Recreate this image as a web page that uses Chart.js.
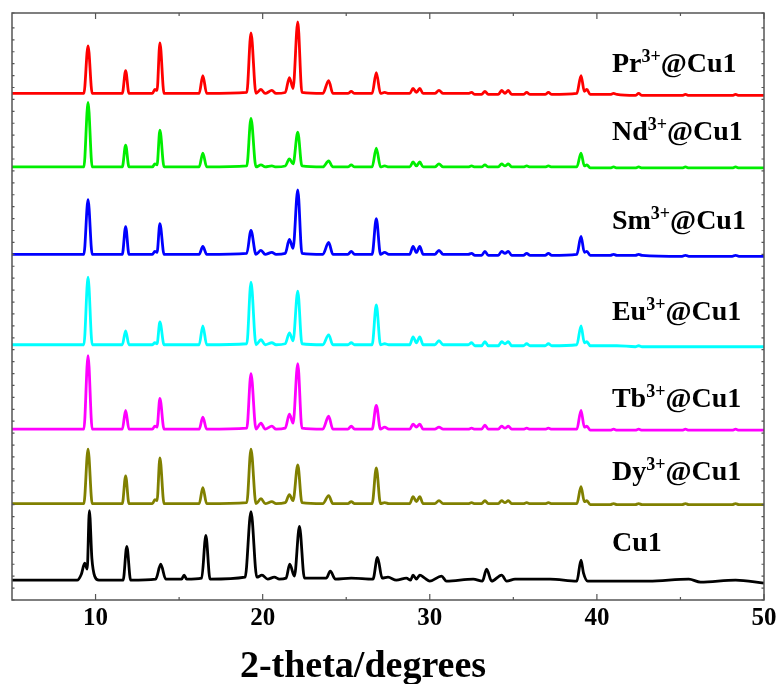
<!DOCTYPE html>
<html>
<head>
<meta charset="utf-8">
<script src="https://cdn.jsdelivr.net/npm/chart.js@4.4.1/dist/chart.umd.min.js"></script>
<style>
  html, body { margin: 0; padding: 0; background: #fff; }
</style>
</head>
<body>
<canvas id="xrd" width="781" height="684"></canvas>
<script>
// 2-theta grid shared by the doped samples
const twoTheta = [
  5, 9.3, 9.55, 9.8,
  11.6, 11.8, 12.0,
  13.4, 13.55, 13.68, 13.85, 14.1,
  16.2, 16.42, 16.65,
  19.05, 19.3, 19.6, 19.9, 20.15, 20.55, 20.8,
  21.35, 21.6, 21.82, 22.1, 22.35,
  23.6, 23.95, 24.2, 25.1, 25.3, 25.5,
  26.55, 26.8, 27.05, 27.3, 27.55,
  28.8, 29.0, 29.2, 29.4, 29.6, 30.3, 30.55, 30.8,
  32.3, 32.5, 32.7, 33.1, 33.3, 33.5,
  34.1, 34.3, 34.5, 34.7, 34.9, 35.6, 35.8, 36.0, 36.9, 37.1, 37.3,
  38.8, 39.05, 39.25, 39.4, 39.6,
  40.8, 41.0, 41.2, 42.3, 42.5, 42.7, 45.1, 45.3, 45.5, 48.1, 48.3, 48.5, 50
];

// stacked intensities (a.u.)
const prCu1 = [
  510, 510, 558, 510,
  510, 533, 510,
  510, 514, 513, 561, 510,
  510, 528, 510,
  511, 571, 510, 514, 510, 513, 510,
  511, 526, 515, 582, 511,
  510, 523, 510, 510, 512, 510,
  510, 531, 510, 511, 510,
  510, 515, 511, 515, 510, 510, 513, 510,
  510, 511, 509, 509, 512, 509,
  509, 513, 510, 513, 509, 509, 511, 509, 509, 511, 509,
  510, 528, 512, 514, 509,
  509, 510, 509, 508, 510, 508, 508, 509, 508, 508, 509, 508, 508
];
const ndCu1 = [
  436, 436, 501, 436,
  436, 458, 436,
  436, 439, 438, 473, 436,
  436, 450, 436,
  437, 485, 436, 438, 436, 437, 436,
  437, 444, 439, 471, 437,
  436, 442, 436, 436, 438, 436,
  436, 455, 436, 437, 436,
  436, 441, 437, 441, 436, 436, 439, 436,
  436, 437, 436, 436, 438, 436,
  436, 439, 437, 439, 436, 436, 437, 436, 436, 437, 436,
  436, 450, 437, 438, 435,
  435, 436, 435, 435, 436, 435, 435, 436, 435, 435, 436, 435, 435
];
const smCu1 = [
  348, 348, 403, 348,
  348, 376, 348,
  348, 351, 350, 379, 348,
  348, 356, 348,
  349, 372, 348, 352, 348, 350, 348,
  349, 363, 354, 413, 349,
  348, 360, 348, 348, 351, 348,
  348, 384, 348, 350, 348,
  348, 356, 350, 356, 348, 348, 352, 348,
  348, 349, 347, 347, 351, 347,
  347, 351, 349, 351, 347, 347, 349, 347, 347, 349, 347,
  348, 366, 350, 351, 347,
  347, 348, 347, 347, 348, 347, 346, 347, 346, 346, 347, 346, 346
];
const euCu1 = [
  257, 257, 325, 257,
  257, 271, 257,
  257, 259, 258, 280, 257,
  257, 276, 257,
  258, 320, 257, 262, 257, 259, 257,
  258, 269, 261, 311, 258,
  257, 267, 257, 257, 259, 257,
  257, 297, 257, 258, 257,
  257, 265, 259, 265, 257, 257, 261, 257,
  257, 259, 256, 256, 260, 256,
  256, 260, 258, 260, 256, 256, 258, 256, 256, 258, 256,
  257, 276, 259, 260, 256,
  256, 256, 256, 255, 256, 255, 255, 255, 255, 255, 255, 255, 255
];
const tbCu1 = [
  172, 172, 246, 172,
  172, 191, 172,
  172, 175, 174, 203, 172,
  172, 184, 172,
  173, 228, 172, 178, 172, 175, 172,
  173, 187, 178, 238, 173,
  172, 185, 172, 172, 175, 172,
  172, 196, 172, 174, 172,
  172, 177, 174, 177, 172, 172, 174, 172,
  172, 173, 172, 172, 176, 172,
  172, 175, 173, 175, 172, 172, 173, 172, 172, 173, 172,
  172, 191, 174, 175, 171,
  171, 172, 171, 171, 172, 171, 171, 172, 171, 171, 172, 171, 171
];
const dyCu1 = [
  97, 97, 152, 97,
  97, 125, 97,
  97, 101, 100, 143, 97,
  97, 113, 97,
  98, 152, 97, 102, 97, 99, 97,
  98, 106, 100, 136, 98,
  97, 105, 97, 97, 99, 97,
  97, 133, 97, 98, 97,
  97, 104, 99, 104, 97, 97, 100, 97,
  97, 98, 97, 97, 100, 97,
  97, 100, 98, 100, 97, 97, 98, 97, 97, 98, 97,
  97, 114, 99, 100, 96,
  96, 97, 96, 96, 97, 96, 96, 97, 96, 96, 97, 96, 96
];

// the parent compound was measured on its own grid
const cu1Theta = [
  5, 8.9, 9.15, 9.35, 9.5, 9.63, 9.78, 9.95, 10.2,
  11.65, 11.87, 12.1,
  13.6, 13.9, 14.2,
  15.15, 15.3, 15.45,
  16.35, 16.6, 16.85,
  18.95, 19.3, 19.65, 19.96, 20.3, 20.7, 21.0,
  21.4, 21.62, 21.9, 22.2, 22.5,
  23.8, 24.05, 24.35, 25.3,
  26.6, 26.87, 27.15, 27.5, 28.0,
  28.6, 28.85, 29.0, 29.2, 29.4, 29.7, 30.0, 30.7, 31.0,
  32.6, 33.15, 33.4, 33.7,
  34.3, 34.6, 35.1, 35.9, 37.2,
  38.8, 39.05, 39.2, 39.45,
  40.2, 41.0, 42.6, 43.1, 45.5, 46.2, 48.3, 50
];
const cu1 = [
  20, 20, 26, 37, 31, 90, 42, 24, 20,
  20, 54, 20,
  21, 36, 21,
  21, 25, 21,
  22, 65, 21,
  23, 89, 23, 25, 21, 23, 21,
  22, 36, 24, 74, 22,
  22, 29, 21, 22,
  21, 43, 22, 23, 20,
  22, 20, 25, 21, 25, 22, 19, 24, 19,
  21, 19, 31, 19,
  25, 19, 21, 21, 21,
  19, 40, 27, 19,
  19, 19, 19, 19, 21, 18, 20, 17
];

const labelBase = ['Pr', 'Nd', 'Sm', 'Eu', 'Tb', 'Dy', 'Cu1'];
const labelSup = ['3+', '3+', '3+', '3+', '3+', '3+', ''];
const labelRest = ['@Cu1', '@Cu1', '@Cu1', '@Cu1', '@Cu1', '@Cu1', ''];

const xTicks = [10, 20, 30, 40, 50];
const xMinorTicks = [15, 25, 35, 45];

const colors = ['#ff0000', '#00ee00', '#0000ff', '#00ffff', '#ff00ff', '#808000', '#000000'];
const series = [prCu1, ndCu1, smCu1, euCu1, tbCu1, dyCu1, cu1];
const grids = [twoTheta, twoTheta, twoTheta, twoTheta, twoTheta, twoTheta, cu1Theta];

// label anchors in data units (left edge x, baseline y)
const labelX = 40.9;
const labelY = [532, 463, 374, 282, 194, 121, 49];

const serif = '"Liberation Serif", "Times New Roman", serif';

const decor = {
  id: 'decor',
  afterDatasetsDraw(chart) {
    const { ctx, chartArea: a, scales: { x, y } } = chart;
    ctx.save();

    // frame
    ctx.strokeStyle = '#555';
    ctx.lineWidth = 1.5;
    ctx.strokeRect(a.left, a.top, a.right - a.left, a.bottom - a.top);

    // inward ticks
    ctx.lineWidth = 1.2;
    ctx.beginPath();
    xTicks.forEach(v => {
      const px = x.getPixelForValue(v);
      ctx.moveTo(px, a.bottom); ctx.lineTo(px, a.bottom - 6);
      ctx.moveTo(px, a.top); ctx.lineTo(px, a.top + 6);
    });
    xMinorTicks.forEach(v => {
      const px = x.getPixelForValue(v);
      ctx.moveTo(px, a.bottom); ctx.lineTo(px, a.bottom - 3);
      ctx.moveTo(px, a.top); ctx.lineTo(px, a.top + 3);
    });
    y.ticks.forEach(t => {
      const py = y.getPixelForValue(t.value);
      ctx.moveTo(a.left, py); ctx.lineTo(a.left + 2.5, py);
      ctx.moveTo(a.right, py); ctx.lineTo(a.right - 2.5, py);
    });
    ctx.stroke();

    // sample labels
    ctx.fillStyle = '#000';
    ctx.textAlign = 'left';
    ctx.textBaseline = 'alphabetic';
    labelBase.forEach((txt, i) => {
      let px = x.getPixelForValue(labelX);
      const py = y.getPixelForValue(labelY[i]);
      ctx.font = 'bold 28px ' + serif;
      ctx.fillText(txt, px, py);
      px += ctx.measureText(txt).width;
      if (labelSup[i]) {
        ctx.font = 'bold 18px ' + serif;
        ctx.fillText(labelSup[i], px, py - 10);
        px += ctx.measureText(labelSup[i]).width;
      }
      if (labelRest[i]) {
        ctx.font = 'bold 28px ' + serif;
        ctx.fillText(labelRest[i], px, py);
      }
    });

    // axis title
    ctx.font = 'bold 38px ' + serif;
    ctx.textAlign = 'center';
    ctx.fillText('2-theta/degrees', (a.left + a.right) / 2 - 25, 677);

    ctx.restore();
  }
};

new Chart(document.getElementById('xrd'), {
  type: 'line',
  data: {
    datasets: series.map((vals, i) => ({
      label: labelBase[i] + labelSup[i] + labelRest[i],
      data: vals.map((v, j) => ({ x: grids[i][j], y: v })),
      borderColor: colors[i],
      borderWidth: 2.8,
      pointRadius: 0,
      cubicInterpolationMode: 'monotone',
      borderJoinStyle: 'round',
      fill: false
    }))
  },
  options: {
    responsive: false,
    animation: false,
    layout: { padding: { left: 12, right: 17, top: 13, bottom: 46 } },
    scales: {
      x: {
        type: 'linear',
        min: 5,
        max: 50,
        afterBuildTicks: scale => { scale.ticks = xTicks.map(v => ({ value: v })); },
        ticks: {
          color: '#000',
          padding: 4,
          font: { family: serif, size: 25, weight: 'bold' }
        },
        grid: { display: false, drawTicks: false },
        border: { display: false }
      },
      y: {
        min: 0,
        max: 591,
        ticks: { display: false, stepSize: 12 },
        grid: { display: false, drawTicks: false },
        border: { display: false }
      }
    },
    plugins: {
      legend: { display: false },
      tooltip: { enabled: false }
    }
  },
  plugins: [decor]
});
</script>
</body>
</html>
